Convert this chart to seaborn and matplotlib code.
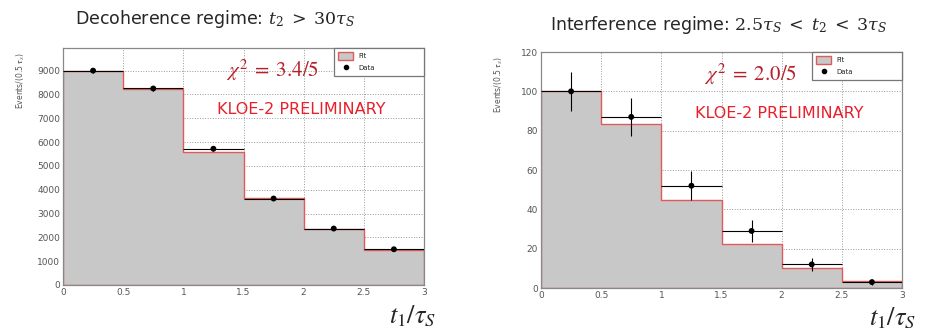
import numpy as np
import seaborn as sns
import matplotlib.pyplot as plt
from matplotlib.patches import Patch
from matplotlib.lines import Line2D

# bins in t1/tau_S
edges = [0, 0.5, 1, 1.5, 2, 2.5, 3]
centers = [0.25, 0.75, 1.25, 1.75, 2.25, 2.75]

# decoherence regime (t2 > 30 tau_S)
deco_fit = [9000, 8220, 5600, 3640, 2340, 1480]
deco_data = [9000, 8250, 5720, 3630, 2370, 1500]
deco_err = [95, 91, 76, 60, 49, 39]

# interference regime (2.5 tau_S < t2 < 3 tau_S)
intf_fit = [100, 83.5, 44.5, 22.5, 10, 3.5]
intf_data = [100, 87, 52, 29, 12, 3]
intf_err = [10, 9.5, 7.5, 5.5, 3.5, 1.7]

sns.set_style("white")
plt.rcParams['font.family'] = ['DejaVu Sans']
plt.rcParams['mathtext.fontset'] = 'stix'

fig = plt.figure(figsize=(9.32, 3.31), dpi=100)
ax1 = fig.add_axes([63 / 932, 1 - 285 / 331, 361 / 932, 237 / 331])
ax2 = fig.add_axes([541 / 932, 1 - 288 / 331, 361 / 932, 236 / 331])

panels = [
    (ax1, deco_fit, deco_data, deco_err, 9950, 1000, 200,
     r"$\chi^2\;=\;3.4/5$", r"Decoherence regime: $t_2\;>\;30\tau_S$"),
    (ax2, intf_fit, intf_data, intf_err, 120, 20, 5,
     r"$\chi^2\;=\;2.0/5$", r"Interference regime: $2.5\tau_S\;<\;t_2\;<\;3\tau_S$"),
]

for ax, fit, data, err, ymax, major, minor, chi, title in panels:
    ax.set_axisbelow(True)
    sns.histplot(x=centers, weights=fit, bins=edges, element="step", fill=True,
                 facecolor="#c8c8c8", edgecolor="#e05a5a", linewidth=1.0,
                 alpha=1, ax=ax, zorder=2)
    ax.errorbar(centers, data, yerr=err, xerr=0.25, fmt="none",
                ecolor="black", elinewidth=0.8, capsize=0, zorder=3)
    sns.scatterplot(x=centers, y=data, color="black", s=18, edgecolor="none",
                    ax=ax, zorder=4)

    ax.set_xlim(0, 3)
    ax.set_ylim(0, ymax)
    ax.set_xticks(edges)
    ax.set_xticklabels(["0", "0.5", "1", "1.5", "2", "2.5", "3"])
    ax.set_yticks(np.arange(0, ymax + 1, major))
    ax.set_yticks(np.arange(0, ymax, minor), minor=True)
    ax.tick_params(axis="both", which="both", direction="in", labelsize=6.5,
                   labelcolor="#555555", color="#777777", pad=2)
    ax.tick_params(axis="y", which="major", length=8)
    ax.tick_params(axis="y", which="minor", length=4)
    ax.tick_params(axis="x", which="major", length=6)
    ax.grid(True, linestyle=":", color="#999999", linewidth=0.7)
    for s in ax.spines.values():
        s.set_color("#888888")
        s.set_linewidth(0.9)

    ax.set_xlabel("")
    ax.set_ylabel(r"Events/(0.5 $\boldsymbol{\tau}_S$)", fontsize=5.5,
                  color="#555555", labelpad=4)
    ax.yaxis.set_label_coords(-0.1, 0.86)

    handles = [Patch(facecolor="#c8c8c8", edgecolor="#e05a5a", linewidth=1),
               Line2D([], [], marker="o", color="black", linestyle="none", markersize=3)]
    leg = ax.legend(handles, ["Fit", "Data"], loc="upper left",
                    bbox_to_anchor=(0.75, 1.0, 0.25, 0.0), mode="expand",
                    fontsize=5, frameon=True, fancybox=False, framealpha=1,
                    edgecolor="#777777", borderaxespad=0, borderpad=0.6,
                    handlelength=2.2, handleheight=1.4, labelspacing=0.5)
    leg.get_frame().set_linewidth(0.9)

    ax.text(0.58, 0.905, chi, transform=ax.transAxes, fontsize=15,
            color="#b5202a", ha="center", va="center")
    ax.text(0.66, 0.74, "KLOE-2 PRELIMINARY", transform=ax.transAxes,
            fontsize=11.5, color="#e8202a", ha="center", va="center")

fig.text(215 / 932, 1 - 19 / 331, panels[0][8], fontsize=12.5, ha="center",
         va="center", math_fontfamily="dejavuserif")
fig.text(719 / 932, 1 - 25 / 331, panels[1][8], fontsize=12.5, ha="center",
         va="center", math_fontfamily="dejavuserif")
fig.text(413 / 932, 1 - 316 / 331, r"$t_1/\tau_S$", fontsize=19, ha="center", va="center")
fig.text(893 / 932, 1 - 318 / 331, r"$t_1/\tau_S$", fontsize=19, ha="center", va="center")

fig.savefig("out.png", dpi=100)
